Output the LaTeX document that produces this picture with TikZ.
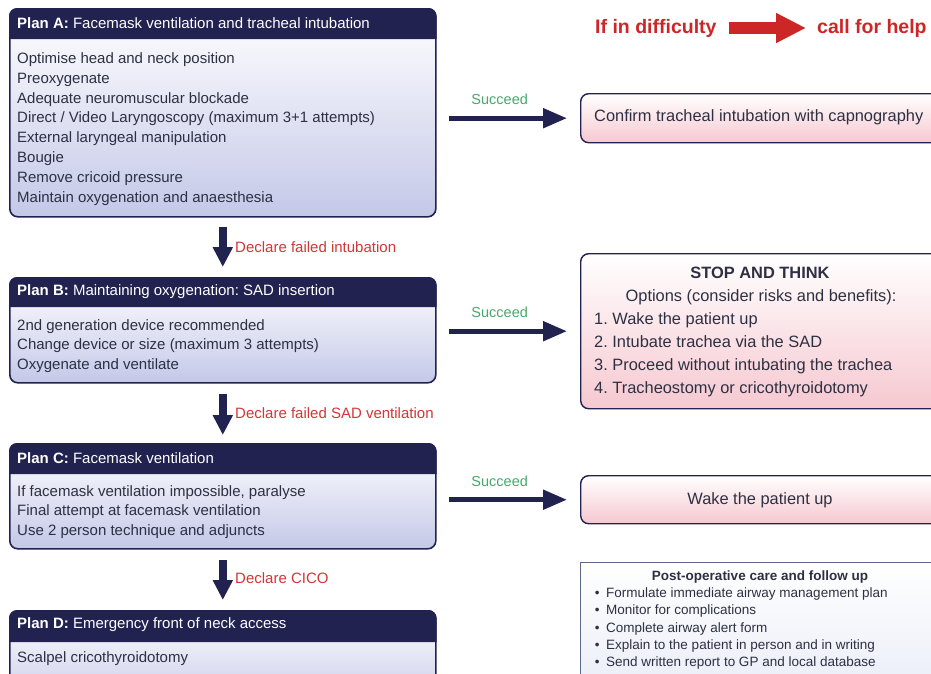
\documentclass[tikz,border=0pt]{standalone}
\usepackage{fontspec}
\setmainfont{Liberation Sans}
\usetikzlibrary{arrows.meta,calc}
\definecolor{navy}{RGB}{33,34,80}
\definecolor{bodytxt}{RGB}{45,48,66}
\definecolor{lav}{RGB}{196,200,232}
\definecolor{pinkb}{RGB}{246,200,208}
\definecolor{alarm}{RGB}{204,38,38}
\definecolor{declred}{RGB}{210,55,55}
\definecolor{okgreen}{RGB}{72,168,108}
\definecolor{postline}{RGB}{95,105,135}
\definecolor{postbot}{RGB}{232,236,246}
\frenchspacing
\begin{document}
\begin{tikzpicture}[x=1pt,y=-1pt,
  planbox/.style={draw=navy, line width=1.6pt, rounded corners=8pt, top color=white, bottom color=lav, anchor=north west, inner sep=0pt, minimum width=426pt},
  rbox/.style={draw=navy, line width=1.4pt, rounded corners=8pt, top color=white, bottom color=pinkb, anchor=north west, inner sep=0pt, minimum width=400pt},
  hdr/.style={text=white, font=\fontsize{15}{18}\selectfont, anchor=west, inner sep=0pt},
  bodyt/.style={text=bodytxt, font=\fontsize{15}{19.8}\selectfont, align=left, anchor=west, inner sep=0pt},
  rtext/.style={text=bodytxt, font=\fontsize{16.4}{23}\selectfont, align=left, inner sep=0pt},
  postt/.style={text=bodytxt, font=\fontsize{13.5}{17.25}\selectfont, align=left, inner sep=0pt},
  decl/.style={text=declred, font=\fontsize{15}{18}\selectfont, anchor=west, inner sep=0pt},
  succ/.style={text=okgreen, font=\fontsize{14.5}{17}\selectfont, inner sep=0pt},
  downarrow/.style={draw=navy, line width=8pt, -{Triangle[width=19pt,length=20pt]}},
  rightarrow/.style={draw=navy, line width=5pt, -{Triangle[width=19pt,length=24pt]}},
  alarmarrow/.style={draw=alarm, line width=12pt, -{Triangle[width=28pt,length=30pt]}},
  redt/.style={text=alarm, font=\fontsize{19.5}{22}\selectfont\bfseries, anchor=west, inner sep=0pt}
]
\useasboundingbox (0,0) rectangle (931,673);
\clip (0,0) rectangle (931,673);
\fill[white] (0,0) rectangle (931,673);

% ---- Plan boxes ----
\node[planbox, minimum height=208pt] (A) at (9,8) {};
\fill[navy] ($(A.north west)+(0,31)$) [rounded corners=8pt] -- (A.north west) -- (A.north east) [sharp corners] -- ($(A.north east)+(0,31)$) -- cycle;
\node[hdr] (Ah) at (17,23) {\textbf{Plan A:} Facemask ventilation and tracheal intubation};
\node[bodyt] (Ab) at (17,129) {Optimise head and neck position\\Preoxygenate\\Adequate neuromuscular blockade\\Direct / Video Laryngoscopy (maximum 3+1 attempts)\\External laryngeal manipulation\\Bougie\\Remove cricoid pressure\\Maintain oxygenation and anaesthesia};

\node[planbox, minimum height=105pt] (B) at (9,277) {};
\fill[navy] ($(B.north west)+(0,30)$) [rounded corners=8pt] -- (B.north west) -- (B.north east) [sharp corners] -- ($(B.north east)+(0,30)$) -- cycle;
\node[hdr] (Bh) at (17,292) {\textbf{Plan B:} Maintaining oxygenation: SAD insertion};
\node[bodyt] (Bb) at (17,346) {2nd generation device recommended\\Change device or size (maximum 3 attempts)\\Oxygenate and ventilate};

\node[planbox, minimum height=105pt] (C) at (9,443) {};
\fill[navy] ($(C.north west)+(0,31)$) [rounded corners=8pt] -- (C.north west) -- (C.north east) [sharp corners] -- ($(C.north east)+(0,31)$) -- cycle;
\node[hdr] (Ch) at (17,458) {\textbf{Plan C:} Facemask ventilation};
\node[bodyt] (Cb) at (17,512) {If facemask ventilation impossible, paralyse\\Final attempt at facemask ventilation\\Use 2 person technique and adjuncts};

\node[planbox, minimum height=100pt] (D) at (9,610) {};
\fill[navy] ($(D.north west)+(0,32)$) [rounded corners=8pt] -- (D.north west) -- (D.north east) [sharp corners] -- ($(D.north east)+(0,32)$) -- cycle;
\node[hdr] (Dh) at (17,625) {\textbf{Plan D:} Emergency front of neck access};
\node[bodyt] (Db) at (17,659) {Scalpel cricothyroidotomy};

% ---- Down arrows ----
\draw[downarrow, shorten <=9pt, shorten >=10pt] (A.south) -- (B.north);
\node[decl] (d1) at (235,247) {Declare failed intubation};
\draw[downarrow, shorten <=10pt, shorten >=8pt] (B.south) -- (C.north);
\node[decl] (d2) at (235,413) {Declare failed SAD ventilation};
\draw[downarrow, shorten <=10pt, shorten >=10pt] (C.south) -- (D.north);
\node[decl] (d3) at (235,578) {Declare CICO};

% ---- Right boxes ----
\node[rbox, minimum height=49pt] (R1) at (580,93) {};
\node[rtext, anchor=west] (R1t) at (594,117) {Confirm tracheal intubation with capnography};

\node[rbox, minimum height=155pt] (R2) at (580,253) {};
\node[rtext, font=\fontsize{16.4}{19}\selectfont\bfseries] (R2h) at (760,273) {STOP AND THINK};
\node[rtext] (R2o) at (761,297) {Options (consider risks and benefits):};
\node[rtext, anchor=west] (R2l) at (594,354.5) {1. Wake the patient up\\2. Intubate trachea via the SAD\\3. Proceed without intubating the trachea\\4. Tracheostomy or cricothyroidotomy};

\node[rbox, minimum height=48pt] (R3) at (580,475) {};
\node[rtext] (R3t) at (760,500) {Wake the patient up};

\node[draw=postline, line width=0.9pt, top color=white, bottom color=postbot, anchor=north west, inner sep=0pt, minimum width=400pt, minimum height=140pt] (P) at (580,562) {};
\node[postt, font=\fontsize{13.5}{16}\selectfont\bfseries] (Ph) at (760,577) {Post-operative care and follow up};
\node[postt, anchor=west] (Pl) at (588,628.5) {\makebox[18pt][c]{•}Formulate immediate airway management plan\\\makebox[18pt][c]{•}Monitor for complications\\\makebox[18pt][c]{•}Complete airway alert form\\\makebox[18pt][c]{•}Explain to the patient in person and in writing\\\makebox[18pt][c]{•}Send written report to GP and local database};

% ---- Succeed arrows ----
\draw[rightarrow, shorten <=12pt, shorten >=13pt] (A.east |- R1.west) -- (R1.west) node[succ, pos=0.44, above=11pt] {Succeed};
\draw[rightarrow, shorten <=12pt, shorten >=13pt] (B.east |- R2.west) -- (R2.west) node[succ, pos=0.44, above=11pt] {Succeed};
\draw[rightarrow, shorten <=12pt, shorten >=13pt] (C.east |- R3.west) -- (R3.west) node[succ, pos=0.44, above=11pt] {Succeed};

% ---- If in difficulty ----
\node[redt] (diff) at (595,28) {If in difficulty};
\node[redt] (help) at (817,28) {call for help};
\draw[alarmarrow, shorten <=12pt, shorten >=11pt] (diff.east) -- (help.west);
\end{tikzpicture}
\end{document}
